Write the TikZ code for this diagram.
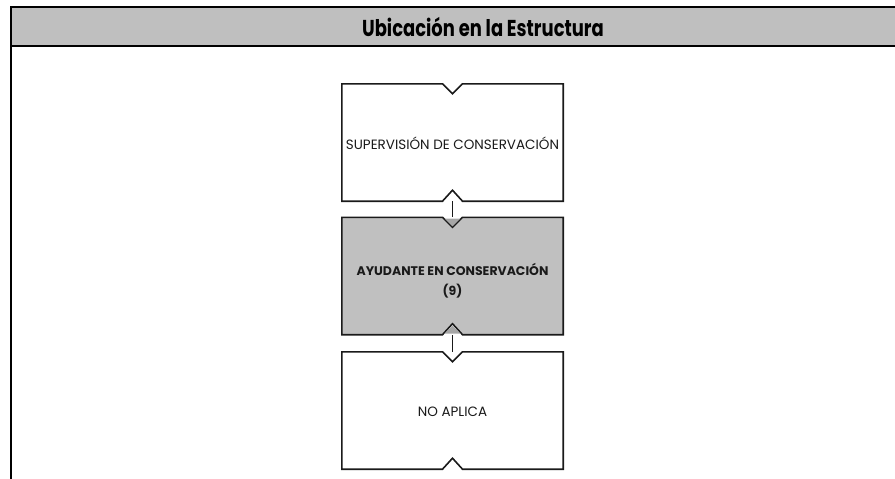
\documentclass[tikz,border=0pt]{standalone}
\usepackage{fontspec}
\setmainfont{Poppins}
\newfontfamily\titlefont[FakeStretch=0.78]{Poppins}
\usetikzlibrary{calc}
\definecolor{hdrgrey}{HTML}{BFBFBF}
\definecolor{boxgrey}{HTML}{C0C0C0}
\definecolor{tipgrey}{HTML}{A6A6A6}
\definecolor{ink}{HTML}{1A1A1A}
\tikzset{
  orgbox/.style={minimum width=221pt, minimum height=117pt, inner sep=0pt, align=center, text=ink},
  outline/.style={draw=ink, line width=1.6pt, line join=miter},
  conn/.style={draw=ink, line width=1.4pt},
}
\newcommand{\notchbox}[2]{%
  \path[outline,#2] (#1.north west) -- ($(#1.north)+(-10,0)$) -- ($(#1.north)+(0,10)$) -- ($(#1.north)+(10,0)$)
   -- (#1.north east) -- (#1.south east) -- ($(#1.south)+(10,0)$) -- ($(#1.south)+(0,-11)$) -- ($(#1.south)+(-10,0)$)
   -- (#1.south west) -- cycle;}
\begin{document}
\begin{tikzpicture}[x=1pt,y=-1pt]
\useasboundingbox (0,0) rectangle (895,479);
% header
\fill[hdrgrey] (11,7) rectangle (895,46);
\draw[black, line width=2.2pt] (895,7) -- (11,7) -- (11,479);
\draw[black, line width=2.2pt] (11,46) -- (895,46);
\node[font=\titlefont\bfseries\fontsize{23}{26}\selectfont, text=black] (title) at (483,27) {Ubicación en la Estructura};
% boxes
\node[orgbox] (b1) at (452.5,142.5) {};
\node[orgbox] (b2) at (452.5,276) {};
\node[orgbox] (b3) at (452.5,410.5) {};
\notchbox{b1}{fill=white}
\notchbox{b2}{fill=boxgrey}
\notchbox{b3}{fill=white}
\node[font=\fontsize{13.5}{16}\selectfont, text=ink] (t1) at ($(b1.center)+(0,1)$) {SUPERVISIÓN DE CONSERVACIÓN};
\node[font=\fontsize{12.5}{20}\selectfont\bfseries, text=ink, align=center] (t2) at ($(b2.center)+(0,5)$) {AYUDANTE EN CONSERVACIÓN\\(9)};
\node[font=\fontsize{13.5}{16}\selectfont, text=ink] (t3) at ($(b3.center)+(0,1)$) {NO APLICA};
% connectors
\fill[tipgrey] ($(b2.north)+(-8,1.2)$) -- ($(b2.north)+(8,1.2)$) -- ($(b2.north)+(0,9)$) -- cycle;
\draw[conn] (b1.south) -- (b2.north);
\fill[tipgrey] ($(b2.south)+(-8,-1.2)$) -- ($(b2.south)+(8,-1.2)$) -- ($(b2.south)+(0,-9)$) -- cycle;
\draw[conn] (b3.north) -- (b2.south);
\end{tikzpicture}
\end{document}
